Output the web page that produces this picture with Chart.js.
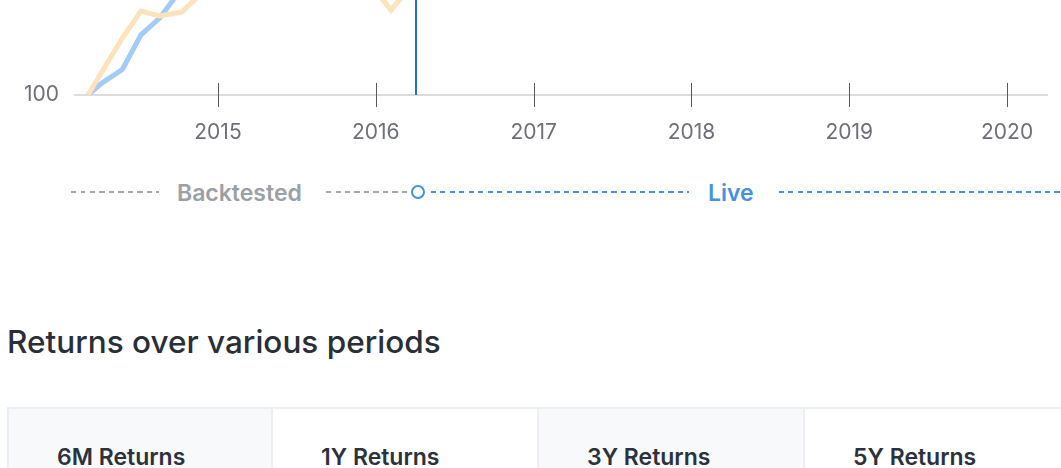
<!DOCTYPE html>
<html>
<head>
<meta charset="utf-8">
<script src="https://cdn.jsdelivr.net/npm/chart.js@4.4.1/dist/chart.umd.min.js"></script>
<style>
  html, body { margin: 0; padding: 0; background: #fff; width: 1061px; height: 468px; overflow: hidden; font-family: Inter, "Noto Sans", sans-serif; }
  #wrap { position: absolute; left: 0; top: -315px; width: 1061px; height: 470px; }
  .legend { position: absolute; left: 0; top: 180px; width: 1061px; height: 24px; }
  .dash { position: absolute; top: 11px; height: 2px; }
  .dash.gray { background: repeating-linear-gradient(to right, #a3a6ab 0 5px, transparent 5px 9.5px); }
  .dash.blue { background: repeating-linear-gradient(to right, #4a90e2 0 5px, transparent 5px 9.5px); }
  .ltxt { position: absolute; top: 0; font-size: 23px; font-weight: 600; line-height: 26px; }
  .circle { position: absolute; left: 411px; top: 5px; width: 10px; height: 10px; border: 2px solid #4a90e2; border-radius: 50%; background: #fff; }
  .title { position: absolute; left: 7px; top: 322px; font-size: 31.5px; font-weight: 500; color: #2a2f37; line-height: 40px; white-space: nowrap; }
  .cells { position: absolute; left: 7px; top: 407px; display: flex; }
  .cell { box-sizing: border-box; height: 90px; border: 2px solid #eceef1; margin-right: -2px; position: relative; }
  .cell span { position: absolute; left: 48px; top: 34px; font-size: 23px; font-weight: 600; color: #2c323b; white-space: nowrap; line-height: 28px; }
</style>
</head>
<body>
<div id="wrap"><canvas id="c" width="1061" height="470"></canvas></div>

<div class="legend">
  <div class="dash gray" style="left:71px;width:88px"></div>
  <div class="ltxt" style="left:177px;color:#9ba0a6">Backtested</div>
  <div class="dash gray" style="left:326px;width:86px"></div>
  <div class="dash blue" style="left:431px;width:258px"></div>
  <div class="circle"></div>
  <div class="ltxt" style="left:708px;color:#4a90e2">Live</div>
  <div class="dash blue" style="left:779px;width:290px"></div>
</div>

<div class="title">Returns over various periods</div>
<div class="cells">
  <div class="cell" style="width:266px;background:#f8f9fb"><span>6M Returns</span></div>
  <div class="cell" style="width:268px;background:#fff"><span>1Y Returns</span></div>
  <div class="cell" style="width:268px;background:#f8f9fb"><span>3Y Returns</span></div>
  <div class="cell" style="width:268px;background:#fff"><span>5Y Returns</span></div>
</div>

<script>
// Dates as decimal years
const dates = [2014.176, 2014.26, 2014.395, 2014.512, 2014.632, 2014.77, 2014.93, 2015.1, 2015.3, 2015.5, 2015.7, 2015.95, 2016.096, 2016.2, 2016.4, 2016.6, 2016.8, 2017.0, 2017.25, 2017.5, 2017.75, 2018.0, 2018.25, 2018.5, 2018.75, 2019.0, 2019.25, 2019.5, 2019.75, 2020.0, 2020.2];
const strategyValues = [100, 123, 160, 188, 183, 187, 212, 235, 260, 250, 240, 220, 189, 210, 235, 250, 262, 275, 290, 305, 320, 330, 315, 320, 300, 305, 320, 315, 330, 340, 280];
const benchmarkValues = [100, 112, 127, 163, 181, 212, 235, 255, 280, 275, 265, 250, 228, 245, 265, 280, 295, 310, 330, 345, 360, 375, 355, 365, 345, 350, 370, 365, 380, 395, 330];
const yearTicks = [2015, 2016, 2017, 2018, 2019, 2020];
const yTicks = [100, 300, 500];
const liveStart = 2016.255;

const toPts = vals => vals.map((v, i) => ({ x: dates[i], y: v }));

const overlay = {
  id: 'overlay',
  afterDraw(chart) {
    const { ctx, chartArea, scales } = chart;
    const xs = scales.x;
    ctx.save();
    ctx.strokeStyle = '#555a60';
    ctx.lineWidth = 1;
    yearTicks.forEach(t => {
      const px = Math.round(xs.getPixelForValue(t)) + 0.5;
      ctx.beginPath();
      ctx.moveTo(px, chartArea.bottom - 12);
      ctx.lineTo(px, chartArea.bottom + 12);
      ctx.stroke();
    });
    const lx = Math.round(xs.getPixelForValue(liveStart));
    ctx.strokeStyle = '#1f6fdc';
    ctx.lineWidth = 2;
    ctx.beginPath();
    ctx.moveTo(lx, chartArea.top);
    ctx.lineTo(lx, chartArea.bottom);
    ctx.stroke();
    ctx.restore();
  }
};

new Chart(document.getElementById('c'), {
  type: 'line',
  data: {
    datasets: [
      { data: toPts(strategyValues), borderColor: '#fde2bb', borderWidth: 5, pointRadius: 0, tension: 0, borderJoinStyle: 'miter', order: 1 },
      { data: toPts(benchmarkValues), borderColor: '#a3cbf7', borderWidth: 5, pointRadius: 0, tension: 0, borderJoinStyle: 'miter', order: 2 }
    ]
  },
  options: {
    responsive: false,
    animation: false,
    events: [],
    layout: { padding: { top: 10, right: 14, left: 0, bottom: 0 } },
    plugins: { legend: { display: false }, tooltip: { enabled: false } },
    scales: {
      x: {
        type: 'linear',
        min: 2014.094,
        max: 2020.253,
        afterBuildTicks: s => { s.ticks = yearTicks.map(v => ({ value: v })); },
        afterFit: s => { s.height = 60; },
        grid: { display: false, drawTicks: false },
        border: { display: true, color: '#dcdcdf', width: 2 },
        ticks: { padding: 25, color: '#6e6f78', font: { family: 'Inter', size: 21 }, callback: v => String(v), maxRotation: 0, autoSkip: false }
      },
      y: {
        type: 'linear',
        min: 100,
        max: 500,
        afterBuildTicks: s => { s.ticks = yTicks.map(v => ({ value: v })); },
        afterFit: s => { s.width = 75; },
        grid: { display: false, drawTicks: false },
        border: { display: false },
        ticks: { padding: 16, color: '#6e6f78', font: { family: 'Inter', size: 21 }, callback: v => String(v) }
      }
    }
  },
  plugins: [overlay]
});
</script>
</body>
</html>
